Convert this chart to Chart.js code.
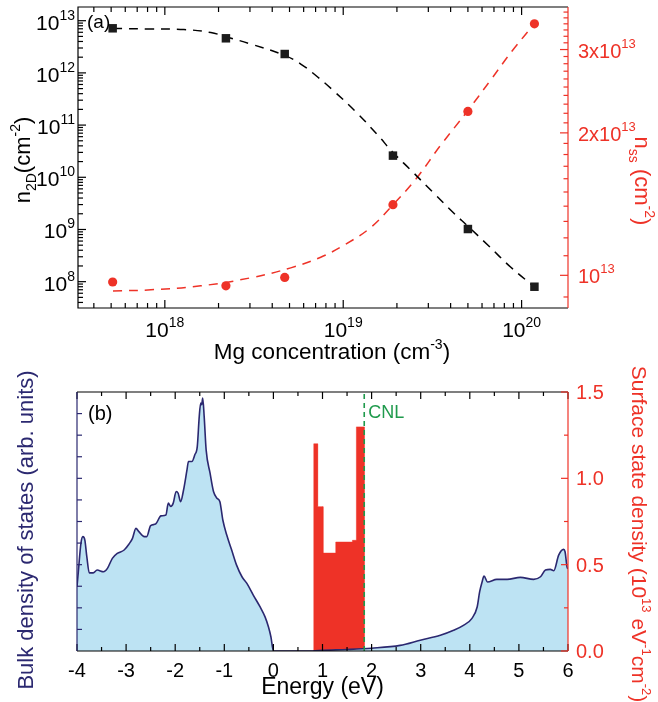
<!DOCTYPE html>
<html><head><meta charset="utf-8">
<script src="https://cdn.jsdelivr.net/npm/chart.js@4.4.1/dist/chart.umd.min.js"></script>
<style>
html,body{margin:0;padding:0;background:#fff;}
#wrap{position:relative;width:658px;height:702px;overflow:hidden;}
canvas{position:absolute;left:0;}
#c1{top:0;}
#c2{top:355px;}
</style></head><body>
<div id="wrap">
<canvas id="c1" width="658" height="372"></canvas>
<canvas id="c2" width="658" height="347"></canvas>
</div>
<script>
// ---------- panel (a) data ----------
const mgConc = [5.1e17, 2.2e18, 4.7e18, 1.9e19, 5.0e19, 1.18e20];
const n2D = [7.15e12, 4.6e12, 2.3e12, 2.6e10, 1.02e9, 8.0e7];
const nss = [9.68e12, 9.5e12, 9.9e12, 1.41e13, 2.22e13, 3.4e13];
const n2DFitX = [5.12e17, 8.36e17, 1.28e18, 1.81e18, 2.22e18, 3.03e18, 4.64e18, 5.78e18, 7.19e18, 8.85e18, 1.18e19, 1.56e19, 1.89e19, 2.39e19, 3.21e19, 4.16e19, 4.98e19, 6.46e19, 8.67e19, 1.18e20];
const n2DFitY = [7.10e12, 6.93e12, 6.78e12, 5.94e12, 4.88e12, 3.58e12, 2.20e12, 1.48e12, 8.35e11, 4.50e11, 1.78e11, 6.46e10, 3.05e10, 1.38e10, 5.01e9, 2.07e9, 1.17e9, 5.05e8, 1.91e8, 7.92e7];
const nssFitX = [5.12e17, 8.36e17, 1.59e18, 3.03e18, 5.08e18, 7.48e18, 1.03e19, 1.43e19, 1.89e19, 2.55e19, 3.52e19, 4.92e19, 6.70e19, 8.91e19, 1.18e20];
const nssFitY = [9.265e12, 9.32e12, 9.50e12, 9.88e12, 1.037e13, 1.092e13, 1.163e13, 1.263e13, 1.406e13, 1.596e13, 1.884e13, 2.212e13, 2.585e13, 2.99e13, 3.40e13];
const concTicks = [1e18, 1e19, 1e20];
const concTickLabels = [['10', '18'], ['10', '19'], ['10', '20']];
const n2DTicks = [1e8, 1e9, 1e10, 1e11, 1e12, 1e13];
const n2DTickLabels = [['10', '8'], ['10', '9'], ['10', '10'], ['10', '11'], ['10', '12'], ['10', '13']];
const nssTicks = [1e13, 2e13, 3e13];
const nssTickLabels = [['10', '13'], ['2x10', '13'], ['3x10', '13']];

// ---------- panel (b) data ----------
const energy = [-4.00,-3.97,-3.92,-3.88,-3.84,-3.80,-3.75,-3.67,-3.59,-3.46,-3.38,-3.28,-3.18,-3.04,-2.94,-2.87,-2.80,-2.74,-2.63,-2.58,-2.50,-2.40,-2.29,-2.19,-2.14,-2.09,-2.04,-1.98,-1.94,-1.89,-1.83,-1.76,-1.73,-1.66,-1.60,-1.55,-1.51,-1.48,-1.46,-1.44,-1.41,-1.37,-1.29,-1.22,-1.15,-1.09,-1.03,-0.95,-0.85,-0.75,-0.64,-0.54,-0.41,-0.27,-0.17,-0.10,-0.05,0.00,0.80,1.00,1.50,2.00,2.58,2.99,3.40,3.67,3.87,4.04,4.15,4.20,4.25,4.29,4.36,4.55,4.76,5.03,5.30,5.44,5.54,5.64,5.71,5.81,5.91,5.94,5.98,6.00];
const bulkDos = [2.97,3.75,4.99,5.30,5.14,4.37,3.62,3.62,3.75,3.67,3.83,4.29,4.52,4.68,4.96,5.22,5.68,5.53,5.30,5.30,5.81,5.88,6.26,6.30,6.85,6.70,6.85,7.39,7.31,6.92,7.46,8.39,8.78,8.78,9.09,9.48,10.87,11.49,11.41,11.72,10.87,9.32,8.24,7.39,7.08,6.92,6.07,5.37,4.68,3.98,3.44,3.13,2.59,2.04,1.58,1.11,0.65,0.00,0.00,0.03,0.07,0.13,0.26,0.50,0.73,0.96,1.19,1.50,2.04,2.74,3.20,3.47,3.20,3.32,3.32,3.41,3.32,3.44,3.75,3.78,3.72,4.44,4.71,4.60,3.90,3.80];
const ssEdges = [0.82, 0.90, 1.01, 1.27, 1.61, 1.69, 1.85];
const ssDensity = [1.20, 0.836, 0.567, 0.631, 0.641, 1.298];
const cnlEnergy = 1.85;
const energyTicks = [-4, -3, -2, -1, 0, 1, 2, 3, 4, 5, 6];
const ssTicks = [0, 0.5, 1.0, 1.5];
const ssTickLabels = ['0.0', '0.5', '1.0', '1.5'];

const FONT = '"Liberation Sans", Arial, Helvetica, sans-serif';
const RED = '#ee3227';
const NAVY = '#2b2870';
const LIGHT = '#bde3f3';
const GREEN = '#1f9a4c';

function rich(ctx, parts, x, y, align, color) {
  let w = 0;
  parts.forEach(p => { ctx.font = p.s + 'px ' + FONT; p.w = ctx.measureText(p.t).width; w += p.w; });
  let sx = align === 'center' ? x - w / 2 : (align === 'right' ? x - w : x);
  ctx.fillStyle = color; ctx.textBaseline = 'alphabetic'; ctx.textAlign = 'left';
  parts.forEach(p => { ctx.font = p.s + 'px ' + FONT; ctx.fillText(p.t, sx, y + (p.dy || 0)); sx += p.w; });
}
function tick(ctx, x1, y1, x2, y2) { ctx.beginPath(); ctx.moveTo(x1, y1); ctx.lineTo(x2, y2); ctx.stroke(); }

// ---------- panel (a) ----------
const drawA = {
  id: 'drawA',
  afterDraw(chart) {
    const { ctx, chartArea: a, scales } = chart;
    const sx = scales.x, sy = scales.y, sy2 = scales.y2;
    ctx.save();
    ctx.lineWidth = 1.2;
    ctx.strokeStyle = '#000';
    ctx.beginPath(); ctx.moveTo(a.right, a.top); ctx.lineTo(a.left, a.top); ctx.lineTo(a.left, a.bottom); ctx.lineTo(a.right, a.bottom); ctx.stroke();
    for (let d = 17; d <= 20; d++) for (let m = 1; m <= 9; m++) {
      const v = m * Math.pow(10, d);
      if (v < sx.min || v > sx.max) continue;
      const px = sx.getPixelForValue(v); const len = m === 1 ? 8 : 5;
      tick(ctx, px, a.bottom, px, a.bottom - len); tick(ctx, px, a.top, px, a.top + len);
    }
    for (let d = 7; d <= 13; d++) for (let m = 1; m <= 9; m++) {
      const v = m * Math.pow(10, d);
      if (v < sy.min || v > sy.max) continue;
      const py = sy.getPixelForValue(v); const len = m === 1 ? 8 : 5;
      tick(ctx, a.left, py, a.left + len, py);
    }
    ctx.strokeStyle = RED;
    tick(ctx, a.right, a.top, a.right, a.bottom);
    for (let k = 8; k <= 37; k++) {
      const v = k * 1e12;
      if (v < sy2.min || v > sy2.max) continue;
      const py = sy2.getPixelForValue(v); const len = (k % 10 === 0) ? 8 : 4.5;
      tick(ctx, a.right, py, a.right - len, py);
    }
    concTicks.forEach((v, i) => {
      const px = sx.getPixelForValue(v);
      rich(ctx, [{ t: concTickLabels[i][0], s: 21 }, { t: concTickLabels[i][1], s: 14, dy: -10 }], px, a.bottom + 29, 'center', '#000');
    });
    n2DTicks.forEach((v, i) => {
      const py = sy.getPixelForValue(v);
      rich(ctx, [{ t: n2DTickLabels[i][0], s: 21 }, { t: n2DTickLabels[i][1], s: 14, dy: -10 }], a.left - 3, py + 9, 'right', '#000');
    });
    nssTicks.forEach((v, i) => {
      const py = sy2.getPixelForValue(v);
      rich(ctx, [{ t: nssTickLabels[i][0], s: 20 }, { t: nssTickLabels[i][1], s: 13, dy: -10 }], a.right + 10, py + 8, 'left', RED);
    });
    rich(ctx, [{ t: '(a)', s: 19 }], a.left + 9, a.top + 21, 'left', '#000');
    rich(ctx, [{ t: 'Mg concentration (cm', s: 22.5 }, { t: '-3', s: 14, dy: -10 }, { t: ')', s: 22.5 }], 332, 359, 'center', '#000');
    ctx.save(); ctx.translate(30, 160); ctx.rotate(-Math.PI / 2);
    rich(ctx, [{ t: 'n', s: 22 }, { t: '2D', s: 14, dy: 6 }, { t: '(cm', s: 22 }, { t: '-2', s: 14, dy: -10 }, { t: ')', s: 22 }], 0, 0, 'center', '#000');
    ctx.restore();
    ctx.save(); ctx.translate(635, 181); ctx.rotate(Math.PI / 2);
    rich(ctx, [{ t: 'n', s: 22 }, { t: 'ss', s: 14, dy: 6 }, { t: ' (cm', s: 22 }, { t: '-2', s: 14, dy: -10 }, { t: ')', s: 22 }], 0, 0, 'center', RED);
    ctx.restore();
    ctx.restore();
  }
};

const noAxis = { ticks: { display: false }, grid: { display: false }, border: { display: false } };
new Chart(document.getElementById('c1'), {
  type: 'scatter',
  data: {
    datasets: [
      { data: mgConc.map((v, i) => ({ x: v, y: n2D[i] })), yAxisID: 'y', pointStyle: 'rect', pointRadius: 6, backgroundColor: '#1c1c1c', borderColor: '#1c1c1c', borderWidth: 0, showLine: false },
      { data: mgConc.map((v, i) => ({ x: v, y: nss[i] })), yAxisID: 'y2', pointStyle: 'circle', pointRadius: 4.6, backgroundColor: RED, borderColor: RED, borderWidth: 0, showLine: false },
      { data: n2DFitX.map((v, i) => ({ x: v, y: n2DFitY[i] })), yAxisID: 'y', showLine: true, pointRadius: 0, borderColor: '#000', borderWidth: 1.5, borderDash: [9, 7], tension: 0.4, fill: false },
      { data: nssFitX.map((v, i) => ({ x: v, y: nssFitY[i] })), yAxisID: 'y2', showLine: true, pointRadius: 0, borderColor: RED, borderWidth: 1.5, borderDash: [9, 7], tension: 0.4, fill: false }
    ]
  },
  options: {
    responsive: false, animation: false,
    plugins: { legend: { display: false }, tooltip: { enabled: false } },
    layout: { padding: { top: 7, left: 0, right: 0, bottom: 0 } },
    scales: {
      x: Object.assign({ type: 'logarithmic', position: 'bottom', min: 3.26e17, max: 1.82e20, afterFit(s) { s.height = 64; } }, noAxis),
      y: Object.assign({ type: 'logarithmic', position: 'left', min: 3.13e7, max: 1.83e13, afterFit(s) { s.width = 78; } }, noAxis),
      y2: Object.assign({ type: 'logarithmic', position: 'right', min: 8.53e12, max: 3.69e13, afterFit(s) { s.width = 90; } }, noAxis)
    }
  },
  plugins: [drawA]
});

// ---------- panel (b) ----------
const OFF = 355;
const drawB = {
  id: 'drawB',
  afterDraw(chart) {
    const { ctx, chartArea: a, scales } = chart;
    const sx = scales.x, sy = scales.y, sy2 = scales.y2;
    ctx.save();
    ctx.lineWidth = 1.2;
    ctx.strokeStyle = '#000';
    tick(ctx, a.left, a.top, a.right, a.top);
    tick(ctx, a.left, a.bottom, a.right, a.bottom);
    for (let k = -8; k <= 12; k++) {
      const v = k / 2; const px = sx.getPixelForValue(v); const len = (k % 2 === 0) ? 7 : 4;
      tick(ctx, px, a.bottom, px, a.bottom - len); tick(ctx, px, a.top, px, a.top + len);
    }
    ctx.strokeStyle = NAVY;
    tick(ctx, a.left, a.top, a.left, a.bottom);
    for (let k = 1; k < 12; k++) { const py = sy.getPixelForValue(k); tick(ctx, a.left, py, a.left + 5, py); }
    ctx.strokeStyle = RED;
    tick(ctx, a.right, a.top, a.right, a.bottom);
    for (let k = 0; k <= 6; k++) { const py = sy2.getPixelForValue(k * 0.25); const len = (k % 2 === 0) ? 7 : 4; tick(ctx, a.right, py, a.right - len, py); }
    energyTicks.forEach(v => rich(ctx, [{ t: String(v), s: 20 }], sx.getPixelForValue(v), a.bottom + 26, 'center', '#000'));
    ssTicks.forEach((v, i) => rich(ctx, [{ t: ssTickLabels[i], s: 20 }], a.right + 8, sy2.getPixelForValue(v) + 7, 'left', RED));
    rich(ctx, [{ t: '(b)', s: 20 }], a.left + 11, a.top + 28, 'left', '#000');
    rich(ctx, [{ t: 'CNL', s: 18 }], sx.getPixelForValue(cnlEnergy) + 4, a.top + 26, 'left', GREEN);
    rich(ctx, [{ t: 'Energy (eV)', s: 23 }], (a.left + a.right) / 2, 694 - OFF, 'center', '#000');
    ctx.save(); ctx.translate(33, 530 - OFF); ctx.rotate(-Math.PI / 2);
    rich(ctx, [{ t: 'Bulk density of states (arb. units)', s: 22 }], 0, 0, 'center', NAVY);
    ctx.restore();
    ctx.save(); ctx.translate(632, 534 - OFF); ctx.rotate(Math.PI / 2);
    rich(ctx, [{ t: 'Surface state density (10', s: 21 }, { t: '13', s: 13, dy: -10 }, { t: ' eV', s: 21 }, { t: '-1', s: 13, dy: -10 }, { t: 'cm', s: 21 }, { t: '-2', s: 13, dy: -10 }, { t: ')', s: 21 }], 0, 0, 'center', RED);
    ctx.restore();
    ctx.restore();
  }
};

const ssPoints = [{ x: ssEdges[0], y: 0 }];
ssDensity.forEach((d, i) => { ssPoints.push({ x: ssEdges[i], y: d }); ssPoints.push({ x: ssEdges[i + 1], y: d }); });
ssPoints.push({ x: ssEdges[ssEdges.length - 1], y: 0 });

new Chart(document.getElementById('c2'), {
  type: 'scatter',
  data: {
    datasets: [
      { data: [{ x: cnlEnergy, y: 0 }, { x: cnlEnergy, y: 1.5 }], yAxisID: 'y2', showLine: true, pointRadius: 0, borderColor: GREEN, borderWidth: 1.6, borderDash: [5, 4], fill: false },
      { data: energy.map((e, i) => ({ x: e, y: bulkDos[i] })), yAxisID: 'y', showLine: true, pointRadius: 0, borderColor: NAVY, borderWidth: 1.6, backgroundColor: LIGHT, fill: 'origin', cubicInterpolationMode: 'monotone' },
      { data: ssPoints, yAxisID: 'y2', showLine: true, pointRadius: 0, borderColor: RED, borderWidth: 0.5, backgroundColor: RED, fill: 'origin' }
    ]
  },
  options: {
    responsive: false, animation: false,
    plugins: { legend: { display: false }, tooltip: { enabled: false } },
    layout: { padding: { top: 37, left: 0, right: 0, bottom: 0 } },
    scales: {
      x: Object.assign({ type: 'linear', position: 'bottom', min: -4, max: 6, afterFit(s) { s.height = 51; } }, noAxis),
      y: Object.assign({ type: 'linear', position: 'left', min: 0, max: 12, afterFit(s) { s.width = 77; } }, noAxis),
      y2: Object.assign({ type: 'linear', position: 'right', min: 0, max: 1.5, afterFit(s) { s.width = 90; } }, noAxis)
    }
  },
  plugins: [drawB]
});
</script>
</body></html>
